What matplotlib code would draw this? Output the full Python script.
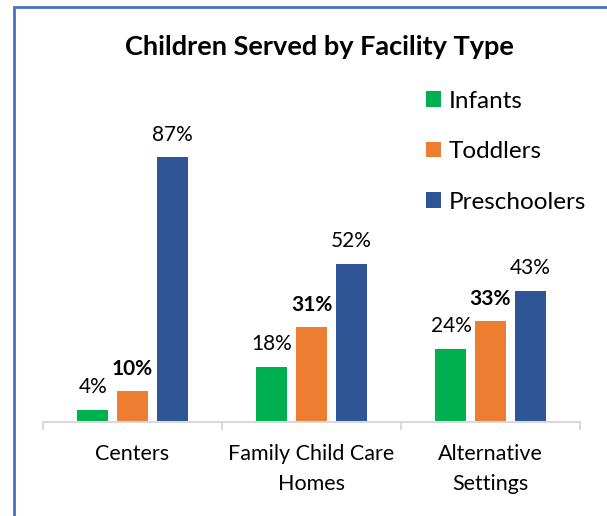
import matplotlib
matplotlib.use("Agg")
import matplotlib.pyplot as plt
from matplotlib.patches import Rectangle
import numpy as np

plt.rcParams['font.family'] = ['Lato', 'DejaVu Sans']

# data
categories = ['Centers', 'Family Child Care\nHomes', 'Alternative\nSettings']
series = ['Infants', 'Toddlers', 'Preschoolers']
infants = [4, 18, 24]
toddlers = [10, 31, 33]
preschoolers = [87, 52, 43]
colors = ['#00B050', '#ED7D31', '#2F5597']

W, H = 607, 516
fig = plt.figure(figsize=(W / 100, H / 100), dpi=100)
ax = fig.add_axes([43 / W, (H - 421.7) / H, 537 / W, 304 / H])

x = np.arange(len(categories))
width = 0.173
offsets = [-0.221, 0, 0.221]
for vals, off, col, name in zip([infants, toddlers, preschoolers], offsets, colors, series):
    bars = ax.bar(x + off, vals, width, color=col, label=name)
    for b, v in zip(bars, vals):
        ax.annotate(f'{v}%', (b.get_x() + b.get_width() / 2, v),
                    xytext=(0, 12), textcoords='offset points',
                    ha='center', va='baseline', fontsize=15,
                    fontweight='bold' if name == 'Toddlers' else 'normal')

ax.set_xlim(-0.5, 2.5)
ax.set_ylim(0, 100)
ax.set_yticks([])
for s in ['top', 'right', 'left']:
    ax.spines[s].set_visible(False)
ax.spines['bottom'].set_color('#D9D9D9')
ax.spines['bottom'].set_linewidth(1.5)
ax.set_xticks(x)
ax.set_xticklabels(categories, fontsize=15.5, linespacing=1.6)
ax.tick_params(axis='x', which='major', length=0, pad=16)
ax.set_xticks([-0.5, 0.5, 1.5, 2.5], minor=True)
ax.tick_params(axis='x', which='minor', length=5.5, color='#D9D9D9', width=1.5)

fig.text(319.5 / W, 1 - 47.5 / H, 'Children Served by Facility Type',
         ha='center', va='center', fontsize=19.5, fontweight='bold')

ax.legend(loc='upper left', bbox_to_anchor=(426 / W, 1 - 90.5 / H),
          bbox_transform=fig.transFigure, frameon=False, fontsize=17.5,
          handlelength=0.62, handleheight=0.62, handletextpad=0.3,
          labelspacing=1.22, borderaxespad=0, borderpad=0)

fig.patches.append(Rectangle((14 / W, -0.1), 2, (H - 7) / H + 0.1,
                             transform=fig.transFigure, fill=False,
                             edgecolor='#4472C4', linewidth=2))

fig.savefig('out.png', dpi=100)
